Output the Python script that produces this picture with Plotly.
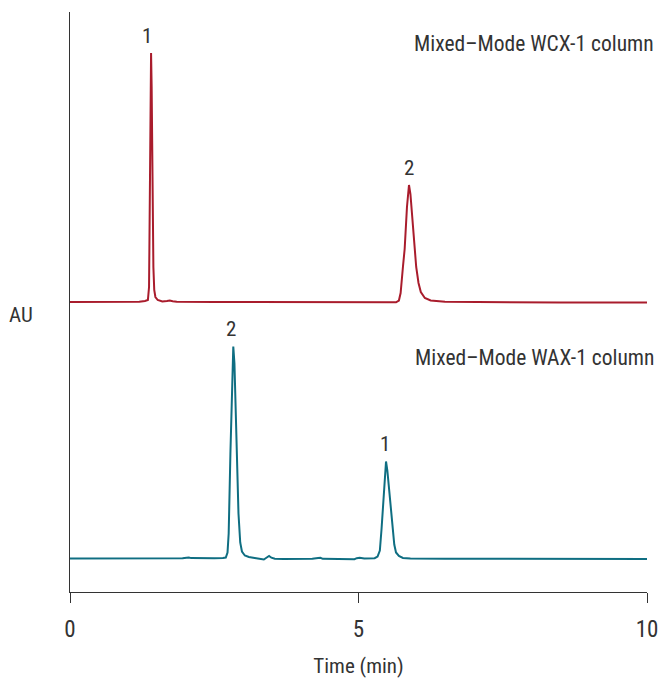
import plotly.graph_objects as go

# ---------------- data ----------------
# Mixed-Mode WCX-1 column (red trace), time in min, signal in relative AU
wcx_time = [0.0, 0.5, 1.0, 1.20, 1.30, 1.35, 1.37, 1.385, 1.395, 1.405, 1.415, 1.43,
            1.445, 1.46, 1.48, 1.52, 1.60, 1.68, 1.73, 1.78, 1.85, 2.5, 3.5, 4.5,
            5.0, 5.5, 5.65, 5.70, 5.73, 5.77, 5.80, 5.84, 5.875, 5.90, 5.93, 5.97,
            6.00, 6.04, 6.08, 6.15, 6.25, 6.5, 7.5, 8.5, 10.0]
wcx_signal = [0.0, 0.0, 0.0, 0.3, 1.0, 2.0, 15, 110, 210, 249, 215, 110,
              35, 12, 5, 2.0, 0.5, 1.0, 1.5, 0.8, 0.2, 0.0, -0.3, -0.5,
              -0.5, -0.5, -0.3, 1.5, 9, 35, 53, 95, 117, 108, 86, 53,
              35, 19, 10, 4, 1.5, 0.3, -0.3, -0.5, -0.5]
wcx_peak_times = [1.405, 5.875]
wcx_peak_heights = [249, 117]
wcx_peak_labels = ["1", "2"]

# Mixed-Mode WAX-1 column (teal trace)
wax_time = [0.0, 1.0, 1.7, 1.95, 2.02, 2.06, 2.10, 2.2, 2.5, 2.65, 2.70, 2.73, 2.75,
            2.78, 2.81, 2.83, 2.85, 2.87, 2.89, 2.92, 2.95, 2.98, 3.03, 3.10, 3.20,
            3.30, 3.36, 3.41, 3.45, 3.49, 3.55, 3.7, 3.9, 4.2, 4.30, 4.34, 4.38,
            4.6, 4.85, 4.93, 4.97, 5.02, 5.10, 5.22, 5.28, 5.33, 5.37, 5.40, 5.42,
            5.45, 5.477, 5.50, 5.53, 5.56, 5.59, 5.62, 5.65, 5.70, 5.77, 5.9, 6.5,
            7.5, 8.5, 10.0]
wax_signal = [0.0, 0.0, 0.0, 0.3, 0.8, 1.0, 0.4, 0.2, 0.2, 0.5, 1.0, 6, 25,
              105, 185, 212, 195, 150, 105, 45, 16, 7, 3.0, 1.5, 0.5,
              0.0, -1.0, 1.0, 2.5, 0.8, -0.3, -0.5, -0.5, -0.3, 0.6, 0.7, -0.3,
              -0.5, -0.5, -0.7, 0.3, 0.8, 0.0, 0.0, 0.3, 2.0, 8, 30, 49,
              80, 97, 88, 68, 49, 28, 14, 6, 2.5, 0.5, 0.0, -0.3,
              -0.5, -0.5, -0.5]
wax_peak_times = [2.83, 5.477]
wax_peak_heights = [212, 97]
wax_peak_labels = ["2", "1"]

x_tick_vals = [0, 5, 10]
x_tick_text = ["0", "5", "10"]
column_names = ["Mixed\u2013Mode WCX-1 column", "Mixed\u2013Mode WAX-1 column"]

# ---------------- styling / layout ----------------
RED = "#a91c2c"
TEAL = "#0f6e82"
FONT = "Liberation Sans Narrow, Roboto Condensed, Roboto, Arial, sans-serif"
TXT = "#333333"
wcx_offset = 290
wax_offset = 33.5

fig = go.Figure()
fig.add_trace(go.Scatter(x=wcx_time, y=[v + wcx_offset for v in wcx_signal],
                         mode="lines", line=dict(color=RED, width=2),
                         showlegend=False, hoverinfo="skip"))
fig.add_trace(go.Scatter(x=wax_time, y=[v + wax_offset for v in wax_signal],
                         mode="lines", line=dict(color=TEAL, width=2),
                         showlegend=False, hoverinfo="skip"))

annotations = []
for t, h, lab, dx in zip(wcx_peak_times, wcx_peak_heights, wcx_peak_labels, [-4, 0]):
    annotations.append(dict(x=t, y=h + wcx_offset, text=lab, showarrow=False,
                            xanchor="center", yanchor="bottom", yshift=3, xshift=dx,
                            font=dict(size=21, color=TXT, family=FONT)))
for t, h, lab, dx in zip(wax_peak_times, wax_peak_heights, wax_peak_labels, [-2, -1]):
    annotations.append(dict(x=t, y=h + wax_offset, text=lab, showarrow=False,
                            xanchor="center", yanchor="bottom", yshift=4, xshift=dx,
                            font=dict(size=21, color=TXT, family=FONT)))
for name, yp in zip(column_names, [(592 - 43) / 580, (592 - 357) / 580]):
    annotations.append(dict(x=(656 - 70) / 577, y=yp, xref="paper", yref="paper",
                            text=name, showarrow=False, xanchor="right", yanchor="middle",
                            font=dict(size=21.5, color=TXT, family=FONT)))
annotations.append(dict(x=(21 - 70) / 577, y=(592 - 315) / 580, xref="paper", yref="paper",
                        text="AU", showarrow=False, xanchor="center", yanchor="middle",
                        font=dict(size=21, color=TXT, family=FONT)))

fig.update_layout(
    width=662, height=679,
    margin=dict(l=70, r=15, t=12, b=87, autoexpand=False),
    paper_bgcolor="white", plot_bgcolor="white",
    font=dict(family=FONT, size=20, color=TXT),
    annotations=annotations,
    xaxis=dict(range=[0, 10], tickvals=x_tick_vals, ticktext=x_tick_text,
               automargin=False,
               showline=True, linecolor="#333333", linewidth=1.2,
               ticks="outside", ticklen=10, tickwidth=1.2, tickcolor="#333333",
               ticklabelstandoff=6,
               showgrid=False, zeroline=False,
               tickfont=dict(size=23, color=TXT, family=FONT),
               title=dict(text="Time (min)", standoff=16,
                          font=dict(size=21, color=TXT, family=FONT))),
    yaxis=dict(range=[0, 580], showline=True, linecolor="#333333", linewidth=1.2,
               automargin=False,
               showticklabels=False, ticks="", showgrid=False, zeroline=False),
)

fig.write_html("out.html", config={"displayModeBar": False},
               post_script="document.body.style.margin='0';document.body.style.overflow='hidden';")
